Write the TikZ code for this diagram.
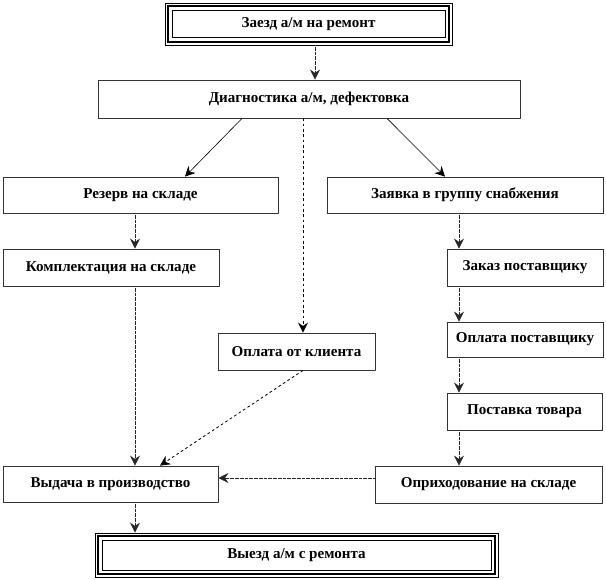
\documentclass[tikz,border=0pt]{standalone}
\usepackage{fontspec}
\setmainfont{Liberation Serif}
\usetikzlibrary{arrows.meta,calc}
\newcommand{\mybox}[6]{\node[box, minimum width={(#4-#2)*0.75pt}, minimum height={(#5-#3)*0.75pt}] (#1) at ({(#2+#4)/2},{(#3+#5)/2}) {#6};}
\newcommand{\triple}[1]{%
  \draw[line width=1.7pt] ($(#1.south west)+(3.5,-3.5)$) rectangle ($(#1.north east)+(-3.5,3.5)$);
  \draw[line width=0.6pt] ($(#1.south west)+(7.5,-7.5)$) rectangle ($(#1.north east)+(-7.5,7.5)$);}
\begin{document}
\begin{tikzpicture}[x=0.75pt,y=-0.75pt,
  box/.style={draw=black!80, line width=0.6pt, dash pattern=on 0.4pt off 0.35pt, inner sep=0pt, fill=white,
    font=\bfseries\fontsize{11.3}{13}\selectfont},
  frame/.style={draw=black, line width=0.6pt, inner sep=0pt, fill=white,
    font=\bfseries\fontsize{11.3}{13}\selectfont},
  tip/.style={-{Stealth[length=7.5pt,width=7.5pt,inset=2.5pt]}},
  dotline/.style={tip, draw=black!85, line width=0.6pt, dash pattern=on 0.5pt off 0.45pt},
  dashline/.style={tip, line width=0.6pt, dash pattern=on 2pt off 2pt},
  solidline/.style={tip, line width=0.45pt}]
\useasboundingbox (0,0) rectangle (606,580);
\fill[white] (0,0) rectangle (606,580);
% nodes
\node[frame, minimum width={(452-165)*0.75pt}, minimum height={(45-3)*0.75pt}] (zaezd) at ({(165+452)/2},24) {Заезд а/м на ремонт};
\triple{zaezd}
\mybox{diag}{98}{80}{520}{118}{Диагностика а/м, дефектовка}
\mybox{rezerv}{3}{177}{278}{213}{Резерв на складе}
\mybox{kompl}{3}{249}{219}{286}{Комплектация на складе}
\mybox{zayavka}{327}{177}{603}{213}{Заявка в группу снабжения}
\mybox{zakaz}{447}{249}{603}{286}{Заказ поставщику}
\mybox{oplpost}{447}{322}{603}{357}{Оплата поставщику}
\mybox{postavka}{447}{393}{602}{430}{Поставка товара}
\mybox{oprih}{375}{466}{602}{503}{Оприходование на складе}
\mybox{oplkl}{218}{333}{375}{370}{Оплата от клиента}
\mybox{vydacha}{3}{466}{218}{502}{Выдача в производство}
\node[frame, minimum width={(498-95)*0.75pt}, minimum height={(577-533)*0.75pt}] (vyezd) at ({(95+498)/2},555) {Выезд а/м с ремонта};
\triple{vyezd}
% helper x positions
\coordinate (xa) at (315,0);
\coordinate (xb) at (242,0);
\coordinate (xc) at (185,0);
\coordinate (xd) at (303,0);
\coordinate (xe) at (387,0);
\coordinate (xf) at (445,0);
\coordinate (xg) at (135,0);
\coordinate (xh) at (459,0);
\coordinate (xi) at (160,0);
\coordinate (yh) at (0,478);
% connectors
\draw[dotline] (zaezd.south -| xa) -- (diag.north -| xa);
\draw[solidline] (diag.south -| xb) -- (rezerv.north -| xc);
\draw[dashline] (diag.south -| xd) -- (oplkl.north -| xd);
\draw[solidline] (diag.south -| xe) -- (zayavka.north -| xf);
\draw[dotline] (rezerv.south -| xg) -- (kompl.north -| xg);
\draw[dotline] (kompl.south -| xg) -- (vydacha.north -| xg);
\draw[dotline] (zayavka.south -| xh) -- (zakaz.north -| xh);
\draw[dotline] (zakaz.south -| xh) -- (oplpost.north -| xh);
\draw[dotline] (oplpost.south -| xh) -- (postavka.north -| xh);
\draw[dotline] (postavka.south -| xh) -- (oprih.north -| xh);
\draw[dashline] (oplkl.south -| xd) -- (vydacha.north -| xi);
\draw[dotline] (oprih.west |- yh) -- (vydacha.east |- yh);
\draw[dotline] (vydacha.south -| xg) -- (vyezd.north -| xg);
\end{tikzpicture}
\end{document}
